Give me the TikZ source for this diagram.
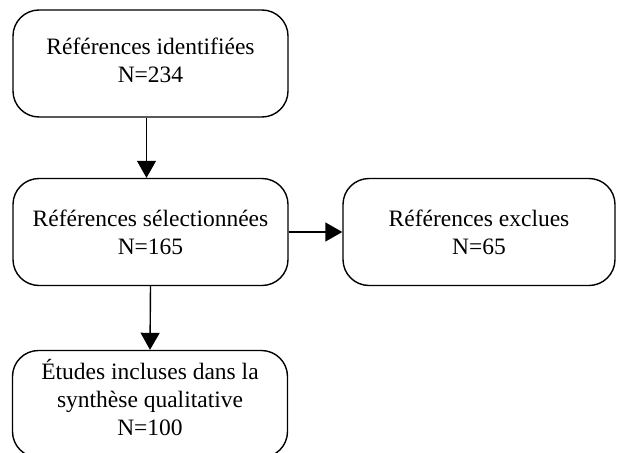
\documentclass[tikz,border=0pt]{standalone}
\usepackage{fontspec}
\setmainfont{Liberation Serif}
\usetikzlibrary{arrows.meta}
\begin{document}
\begin{tikzpicture}[x=1pt,y=-1pt,line width=1.4pt,
				line join=round,font=\fontsize{23.5}{28}\selectfont,
				boite/.style={draw,rounded corners=26pt,align=center,inner sep=0pt,
					minimum width=275pt,minimum height=107pt},
				fleche/.style={-{Triangle[length=17pt,width=19pt]}}]
				\useasboundingbox (0,0) rectangle (617,452);
				\clip (0,0) rectangle (617,452);
				\node[boite,text depth=6pt] (ident) at (150.5,63.5)
				{Références identifiées\\N=234};
				\node[boite] (selec) at (150.5,232)
				{Références sélectionnées\\N=165};
				\node[boite,minimum width=272pt] (excl) at (479,232)
				{Références exclues\\N=65};
				\node[boite,text depth=14pt] (incl) at (150,404)
				{Études incluses dans la\\synthèse qualitative\\N=100};
				\draw[fleche] ([xshift=-4pt]ident.south)--([xshift=-4pt]selec.north);
				\draw[fleche] (selec.east)--(excl.west);
				\draw[fleche] (selec.south)--(incl.north);
			\end{tikzpicture}
\end{document}
